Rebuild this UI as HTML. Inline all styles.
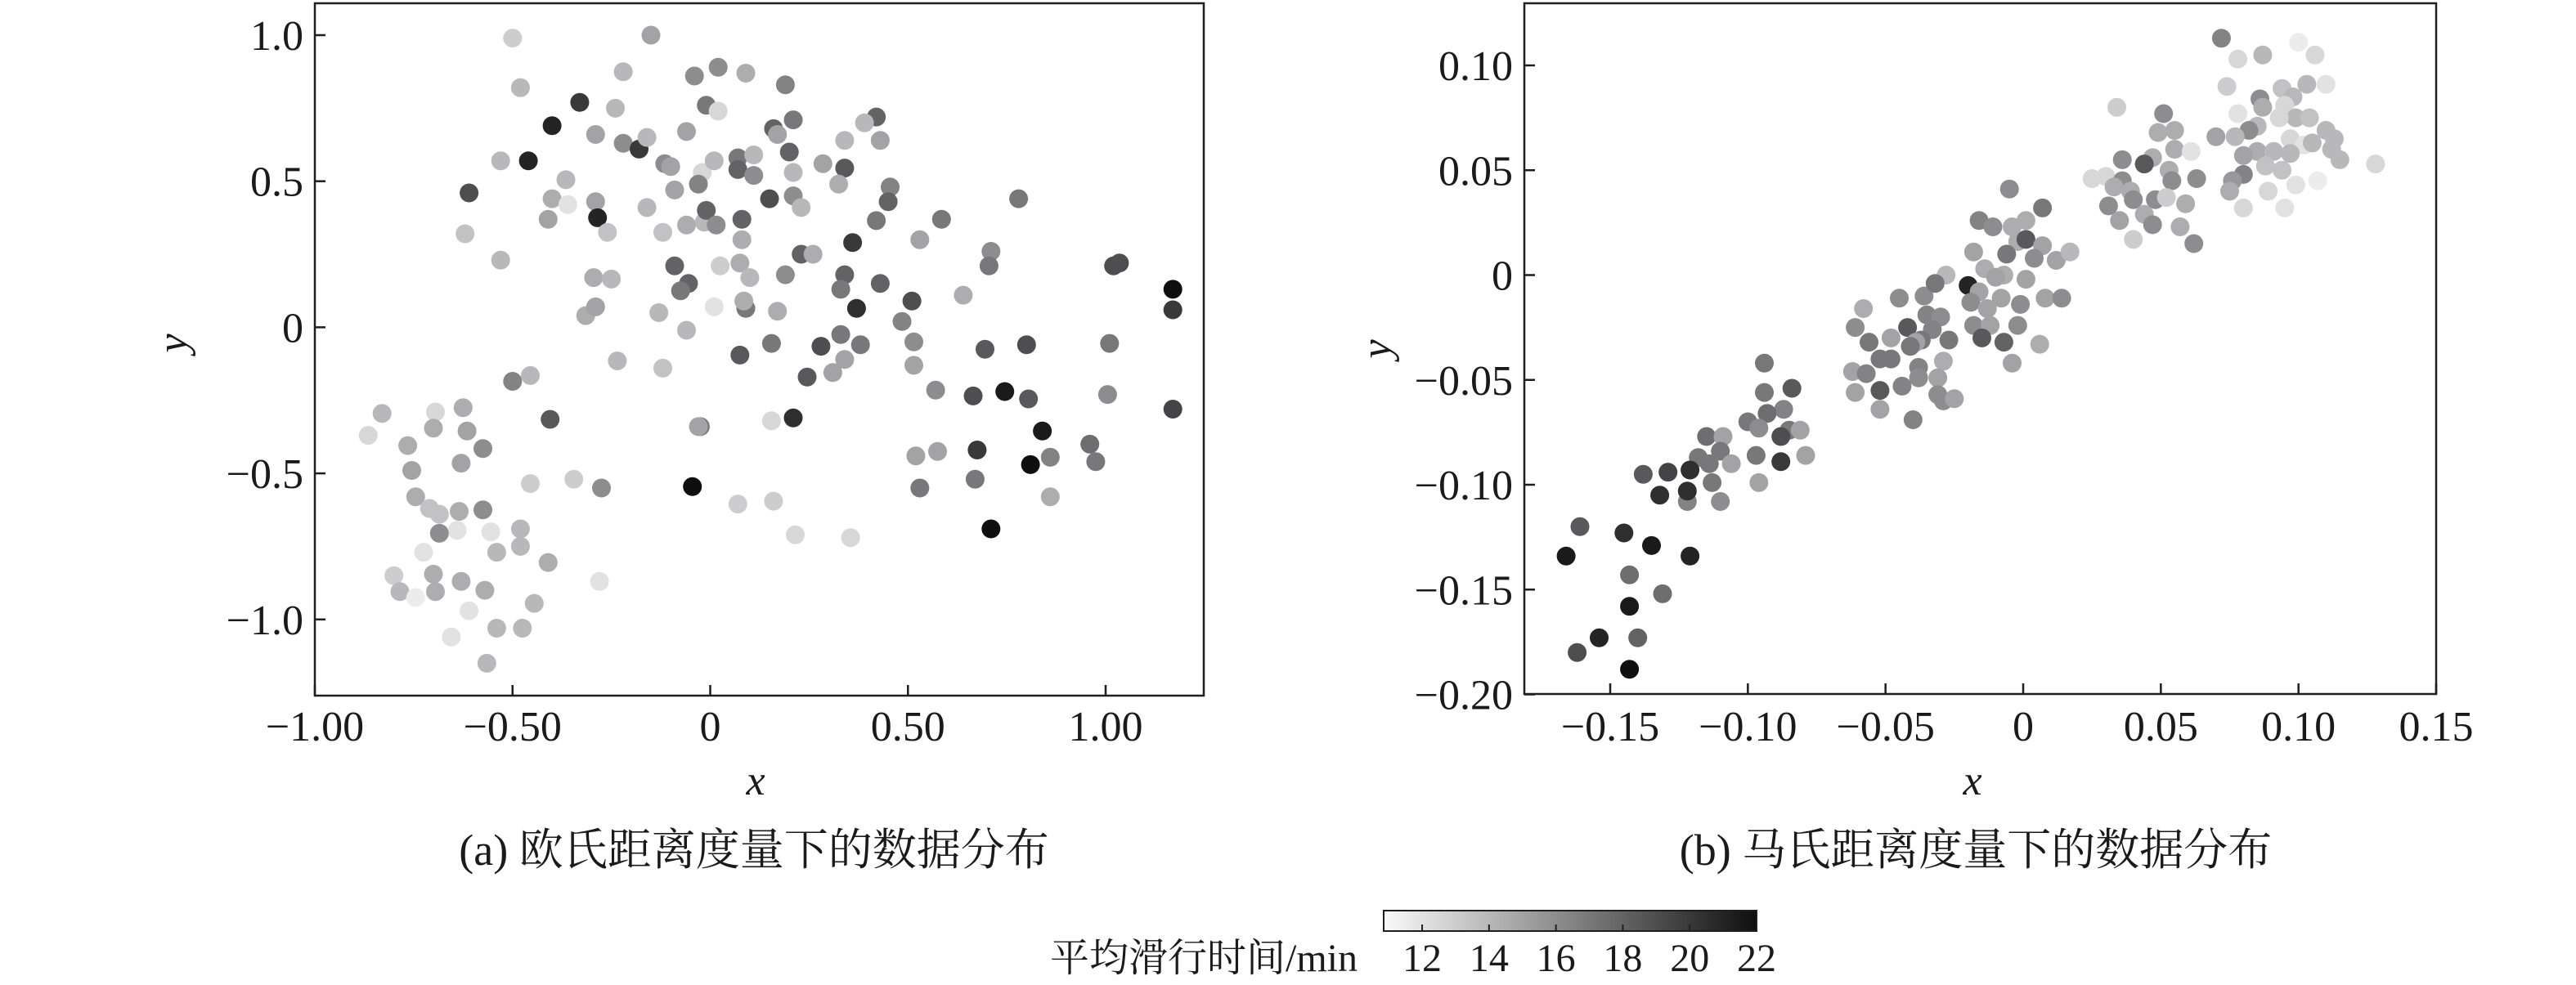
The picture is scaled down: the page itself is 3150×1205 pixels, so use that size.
<!DOCTYPE html>
<html><head><meta charset="utf-8">
<style>
html,body{margin:0;padding:0;background:#fff;}
svg{display:block;}
text{font-family:"Liberation Serif","Noto Serif CJK SC",serif;fill:#1a1a1a;}
</style></head>
<body>
<svg id="fig" width="3150" height="1205" viewBox="0 0 3150 1205" xmlns="http://www.w3.org/2000/svg">
<defs>
<linearGradient id="cbgrad" x1="0" x2="1" y1="0" y2="0">
<stop offset="0" stop-color="#fafafa"/><stop offset="1" stop-color="#0f0f0f"/>
</linearGradient>
</defs>
<g id="panelA"></g>
<g id="panelB"></g>
<g id="cbar"></g>
</svg>
<script>
// Panel (a) data
const aX = [-0.50,-0.15,-0.48,-0.22,-0.04,0.02,0.09,0.19,-0.33,-0.24,-0.01,0.02,-0.40,-0.29,-0.22,-0.18,-0.16,-0.06,0.16,0.17,0.21,0.42,0.39,0.43,0.34,-0.53,-0.46,-0.61,-0.365,-0.40,-0.36,-0.29,-0.115,-0.10,-0.02,0.01,0.07,0.07,0.11,0.11,0.20,0.21,0.285,0.34,-0.03,-0.09,0.15,0.21,0.23,0.455,0.45,0.325,0.78,-0.62,-0.41,-0.285,-0.26,-0.16,-0.12,-0.06,-0.015,-0.01,0.015,0.08,0.08,0.36,0.42,0.585,0.53,-0.53,-0.295,-0.25,-0.09,-0.055,-0.075,0.025,0.075,0.10,0.19,0.23,0.26,0.34,0.33,0.43,0.71,0.705,1.02,1.035,1.17,1.17,0.64,0.51,-0.315,-0.29,-0.13,0.01,0.09,0.085,0.17,0.37,0.485,-0.06,0.155,0.075,0.28,0.33,0.38,0.34,0.515,0.515,0.695,0.80,1.01,-0.235,-0.12,-0.50,-0.455,0.245,0.31,0.57,0.665,0.745,0.805,1.005,1.17,-0.83,-0.695,-0.625,-0.70,-0.615,-0.405,-0.025,-0.03,0.155,0.21,-0.865,-0.765,-0.575,-0.755,-0.63,0.52,0.575,0.675,0.84,0.96,0.975,0.86,0.81,-0.455,-0.345,-0.275,-0.045,0.53,0.67,-0.745,-0.71,-0.685,-0.635,-0.575,0.86,0.07,0.16,-0.48,-0.555,-0.64,-0.685,0.71,0.215,0.355,-0.48,-0.54,-0.725,-0.41,-0.28,-0.80,-0.70,-0.63,-0.57,-0.785,-0.745,-0.695,-0.445,-0.61,-0.54,-0.475,-0.655,-0.565];
const aY = [0.99,1.00,0.82,0.875,0.86,0.89,0.87,0.83,0.77,0.75,0.76,0.74,0.69,0.66,0.63,0.61,0.65,0.67,0.68,0.66,0.71,0.72,0.70,0.64,0.64,0.57,0.57,0.46,0.505,0.44,0.42,0.43,0.56,0.55,0.53,0.57,0.58,0.54,0.52,0.59,0.60,0.53,0.56,0.545,0.49,0.47,0.44,0.45,0.41,0.48,0.43,0.49,0.44,0.32,0.37,0.375,0.325,0.41,0.325,0.35,0.36,0.40,0.35,0.37,0.30,0.29,0.365,0.37,0.30,0.23,0.17,0.165,0.21,0.15,0.125,0.21,0.22,0.17,0.18,0.25,0.25,0.18,0.13,0.15,0.26,0.21,0.21,0.22,0.13,0.06,0.11,0.09,0.04,0.07,0.05,0.07,0.065,0.09,0.055,0.065,0.02,-0.01,-0.055,-0.095,-0.065,-0.025,-0.06,-0.11,-0.05,-0.13,-0.075,-0.06,-0.055,-0.115,-0.14,-0.185,-0.165,-0.17,-0.155,-0.215,-0.235,-0.22,-0.245,-0.23,-0.28,-0.295,-0.29,-0.275,-0.345,-0.355,-0.315,-0.34,-0.34,-0.32,-0.31,-0.37,-0.405,-0.415,-0.49,-0.465,-0.44,-0.425,-0.42,-0.355,-0.40,-0.46,-0.445,-0.47,-0.535,-0.52,-0.55,-0.545,-0.55,-0.52,-0.58,-0.62,-0.64,-0.63,-0.625,-0.58,-0.605,-0.595,-0.69,-0.70,-0.695,-0.705,-0.69,-0.71,-0.72,-0.75,-0.77,-0.77,-0.805,-0.87,-0.85,-0.845,-0.87,-0.90,-0.905,-0.925,-0.905,-0.945,-0.97,-1.03,-1.03,-1.06,-1.15];
const aT = [13,15,14,14,16,16,14.5,16.5,20,14,17,12.5,21,15,16,20,14,15,18,15,17,18,14,15,14,14,21,19,14,14.5,12,15,16,15,12.5,14,17,18,16,14,18,14,15,18.5,16.5,15,19,16,14,16.5,18,14.5,17,13.5,15,21,13.5,14,13.5,14.5,14,18,16,18,14.5,20,17,17,15,14,14.5,14,18,18,17,13,14.5,14,16,18,14.5,18,17,18,16,17,19,19,22,20,14.5,19,14.5,15,14,12,17,14.5,14.5,20.5,16.5,14,17,18.5,19,17,17,15,16,15,18.5,19,17,14,13.5,16.5,14,18.5,15,16,19,21.5,18.5,16,19.5,14,12.5,14.5,14.5,15,18.5,17,15,12.5,20.5,12.5,14.5,16,15,15,15,15,20,21.5,17.5,17,16.5,22,13,13,16,22,17,17,14.5,13.5,13.5,14.5,16,14.5,13,13,14,12,12,16,22,12.5,12.5,14,14,12,14.5,12,13,14.5,14.5,14.5,14,11.5,14.5,14,12,14,14,12,14];
const aXTicks = [-1.0,-0.5,0,0.5,1.0];
const aXTickLabels = ["\u22121.00","\u22120.50","0","0.50","1.00"];
const aYTicks = [1.0,0.5,0,-0.5,-1.0];
const aYTickLabels = ["1.0","0.5","0","\u22120.5","\u22121.0"];

// Panel (b) data
const bX = [0.072,0.078,0.087,0.100,0.106,0.074,0.094,0.103,0.110,0.086,0.098,0.087,0.095,0.078,0.099,0.093,0.104,0.085,0.082,0.070,0.077,0.097,0.110,0.113,0.102,0.105,0.085,0.080,0.091,0.097,0.088,0.094,0.112,0.115,0.128,0.080,0.076,0.075,0.089,0.099,0.107,0.080,0.095,0.034,0.051,0.049,0.055,0.055,0.061,0.036,0.047,0.044,0.053,0.063,0.054,0.025,0.030,0.036,0.033,0.039,0.040,0.048,0.052,0.059,0.031,0.035,0.044,0.047,0.057,0.040,0.062,-0.005,0.007,-0.016,-0.011,-0.004,0.001,-0.002,0.001,0.007,-0.018,-0.006,0.004,0.012,0.017,-0.014,-0.007,-0.028,-0.010,0.001,-0.020,-0.016,-0.008,0.008,0.014,-0.019,-0.013,-0.001,-0.018,-0.012,-0.002,-0.015,-0.007,0.006,-0.004,-0.045,-0.036,-0.032,-0.058,-0.042,-0.035,-0.030,-0.033,-0.061,-0.048,-0.056,-0.037,-0.039,-0.027,-0.041,-0.052,-0.048,-0.029,-0.062,-0.057,-0.038,-0.038,-0.031,-0.061,-0.052,-0.044,-0.031,-0.029,-0.025,-0.052,-0.040,-0.094,-0.094,-0.084,-0.087,-0.093,-0.100,-0.096,-0.085,-0.088,-0.081,-0.088,-0.097,-0.079,-0.096,-0.115,-0.109,-0.110,-0.118,-0.114,-0.106,-0.113,-0.110,-0.122,-0.138,-0.129,-0.121,-0.132,-0.122,-0.161,-0.145,-0.135,-0.121,-0.166,-0.143,-0.131,-0.143,-0.154,-0.140,-0.162,-0.143];
const bY = [0.113,0.103,0.105,0.111,0.105,0.090,0.089,0.091,0.091,0.084,0.085,0.080,0.081,0.077,0.075,0.075,0.075,0.071,0.069,0.066,0.066,0.065,0.069,0.065,0.062,0.063,0.059,0.057,0.059,0.058,0.052,0.050,0.060,0.055,0.053,0.048,0.045,0.040,0.040,0.043,0.045,0.032,0.032,0.080,0.077,0.068,0.069,0.060,0.059,0.055,0.056,0.053,0.050,0.046,0.045,0.046,0.047,0.045,0.042,0.040,0.036,0.036,0.037,0.034,0.033,0.026,0.029,0.024,0.023,0.017,0.015,0.041,0.032,0.026,0.023,0.023,0.026,0.016,0.017,0.014,0.011,0.010,0.008,0.007,0.011,0.003,0.000,0.000,-0.001,-0.002,-0.005,-0.008,-0.011,-0.011,-0.011,-0.013,-0.016,-0.014,-0.024,-0.024,-0.024,-0.030,-0.032,-0.033,-0.042,-0.011,-0.010,-0.004,-0.016,-0.025,-0.019,-0.020,-0.026,-0.025,-0.030,-0.032,-0.031,-0.032,-0.031,-0.034,-0.040,-0.040,-0.041,-0.046,-0.047,-0.044,-0.049,-0.049,-0.056,-0.055,-0.053,-0.057,-0.060,-0.059,-0.064,-0.069,-0.042,-0.056,-0.054,-0.064,-0.066,-0.070,-0.073,-0.074,-0.077,-0.074,-0.089,-0.086,-0.086,-0.099,-0.077,-0.077,-0.084,-0.087,-0.090,-0.090,-0.099,-0.108,-0.108,-0.095,-0.094,-0.093,-0.105,-0.103,-0.120,-0.123,-0.129,-0.134,-0.134,-0.143,-0.152,-0.158,-0.173,-0.173,-0.180,-0.188];
const bT = [16.5,12.5,14,11.5,12.5,13,13.5,14,12,16,14,14.5,12.5,12,14,12.5,13.5,14,16,15,14,12.5,14,14,12,14,14.5,15,14,14,13.5,13.5,14,14,12.5,16.5,15.5,14.5,12.5,12,11.5,12.5,12,13,16,14.5,14.5,14.5,12,16,14.5,18.5,14.5,16,16,12.5,12.5,16,14.5,14.5,16,16,13,14.5,16,15,14.5,16,14.5,13,16,16,17,16.5,16,14.5,14.5,14.5,18.5,15,15,17,16,15,14,14.5,14.5,14,15,15,21,15,15,15,16,16,15,16,16,15,16,18.5,18,14.5,15,16,16,17,14.5,18.5,16.5,16,16.5,16,15,17,17,15,17,17,17,17,14.5,15,16.5,16.5,16,15,15,18.5,16.5,16,16,15,15,16.5,17,17,18.5,16.5,17.5,17,16,17,19,15,20,17,15,15,17.5,15,17,17,17,15,17,16,16.5,18.5,19.5,20.5,20.5,20.5,18.5,20.5,21.5,21,21.5,17.5,17.5,21.5,21,18,19,22];
const bXTicks = [-0.15,-0.10,-0.05,0,0.05,0.10,0.15];
const bXTickLabels = ["\u22120.15","\u22120.10","\u22120.05","0","0.05","0.10","0.15"];
const bYTicks = [0.10,0.05,0,-0.05,-0.10,-0.15,-0.20];
const bYTickLabels = ["0.10","0.05","0","\u22120.05","\u22120.10","\u22120.15","\u22120.20"];

// Colorbar data
const cMin = 10.85, cMax = 22;
const cTicks = [12,14,16,18,20,22];
const cTickLabels = ["12","14","16","18","20","22"];

const NS = "http://www.w3.org/2000/svg";
function mk(parent, tag, attrs, txt){
  const e = document.createElementNS(NS, tag);
  for (const k in attrs) e.setAttribute(k, attrs[k]);
  if (txt !== undefined) e.textContent = txt;
  parent.appendChild(e);
  return e;
}
function color(t){
  let f = (t - cMin) / (cMax - cMin); f = Math.max(0, Math.min(1, f));
  const g = Math.round(250 - f * 235);
  const b = Math.min(255, Math.round(g + f * (1 - f) * 10));
  return `rgb(${g},${g},${b})`;
}

function panel(gid, cfg){
  const g = document.getElementById(gid);
  const sx = v => cfg.xp0 + (v - cfg.xv0) / (cfg.xv1 - cfg.xv0) * (cfg.xp1 - cfg.xp0);
  const sy = v => cfg.yp0 + (v - cfg.yv0) / (cfg.yv1 - cfg.yv0) * (cfg.yp1 - cfg.yp0);
  const pts = mk(g, 'g', {});
  
  
  for (let i = 0; i < cfg.X.length; i++){
    const c = mk(pts, 'circle', {cx: sx(cfg.X[i]).toFixed(1), cy: sy(cfg.Y[i]).toFixed(1), r: 11.5, fill: color(cfg.T[i])});
    
    
  }
  const box = mk(g, 'rect', {x: cfg.L, y: cfg.T0, width: cfg.R - cfg.L, height: cfg.B - cfg.T0, fill: 'none', stroke: '#1e1e1e', 'stroke-width': 2.5});
  
  
  cfg.xt.forEach((v, i) => {
    const x = sx(v);
    mk(g, 'line', {x1: x, x2: x, y1: cfg.B, y2: cfg.B - 13, stroke: '#1e1e1e', 'stroke-width': 2.5});
    const t = mk(g, 'text', {x: x, y: 906, 'font-size': 52, 'text-anchor': 'middle'}, cfg.xl[i]);
    
    
  });
  cfg.yt.forEach((v, i) => {
    const y = sy(v);
    mk(g, 'line', {x1: cfg.L, x2: cfg.L + 13, y1: y, y2: y, stroke: '#1e1e1e', 'stroke-width': 2.5});
    const t = mk(g, 'text', {x: cfg.L - 14, y: y + 18, 'font-size': 52, 'text-anchor': 'end'}, cfg.yl[i]);
    
    
  });
  const xt = mk(g, 'text', {x: cfg.xlabX, y: 972, 'font-size': 52, 'font-style': 'italic', 'text-anchor': 'middle'}, 'x');
  
  
  const yt = mk(g, 'text', {x: 0, y: 0, 'font-size': 52, 'font-style': 'italic', 'text-anchor': 'middle', transform: `translate(${cfg.ylabX},${cfg.ylabY}) rotate(-90)`}, 'y');
  
  
  const cap = mk(g, 'text', {x: cfg.capX, y: 1058, 'font-size': 54, 'text-anchor': 'middle'}, cfg.cap);
  
  
}

panel('panelA', {X: aX, Y: aY, T: aT, L: 385, R: 1472, T0: 4, B: 851,
  xp0: 385, xv0: -1.0, xp1: 1352, xv1: 1.0,
  yp0: 400.4, yv0: 0, yp1: 43, yv1: 1.0,
  xt: aXTicks, xl: aXTickLabels, yt: aYTicks, yl: aYTickLabels,
  xlabX: 924, ylabX: 228, ylabY: 420, capX: 922, cap: '(a) 欧氏距离度量下的数据分布'});

panel('panelB', {X: bX, Y: bY, T: bT, L: 1864, R: 2979, T0: 4, B: 849,
  xp0: 2474, xv0: 0, xp1: 2979, xv1: 0.15,
  yp0: 336.5, yv0: 0, yp1: 80, yv1: 0.10,
  xt: bXTicks, xl: bXTickLabels, yt: bYTicks, yl: bYTickLabels,
  xlabX: 2412, ylabX: 1700, ylabY: 427, capX: 2416, cap: '(b) 马氏距离度量下的数据分布'});

// Colorbar
(function(){
  const g = document.getElementById('cbar');
  const L = 1692, R = 2148, T = 1114, B = 1139;
  const cx = v => L + (v - cMin) / (cMax - cMin) * (R - L);
  const r = mk(g, 'rect', {x: L, y: T, width: R - L, height: B - T, fill: 'url(#cbgrad)', stroke: '#1e1e1e', 'stroke-width': 2});
  
  
  cTicks.forEach((v, i) => {
    const x = cx(v);
    mk(g, 'line', {x1: x, x2: x, y1: B, y2: B - 8, stroke: '#1e1e1e', 'stroke-width': 2});
    const t = mk(g, 'text', {x: x, y: 1188, 'font-size': 48, 'text-anchor': 'middle'}, cTickLabels[i]);
    
    
  });
  const lab = mk(g, 'text', {x: 1660, y: 1188, 'font-size': 48, 'text-anchor': 'end'}, '平均滑行时间/min');
  
  
})();
</script>
</body></html>
